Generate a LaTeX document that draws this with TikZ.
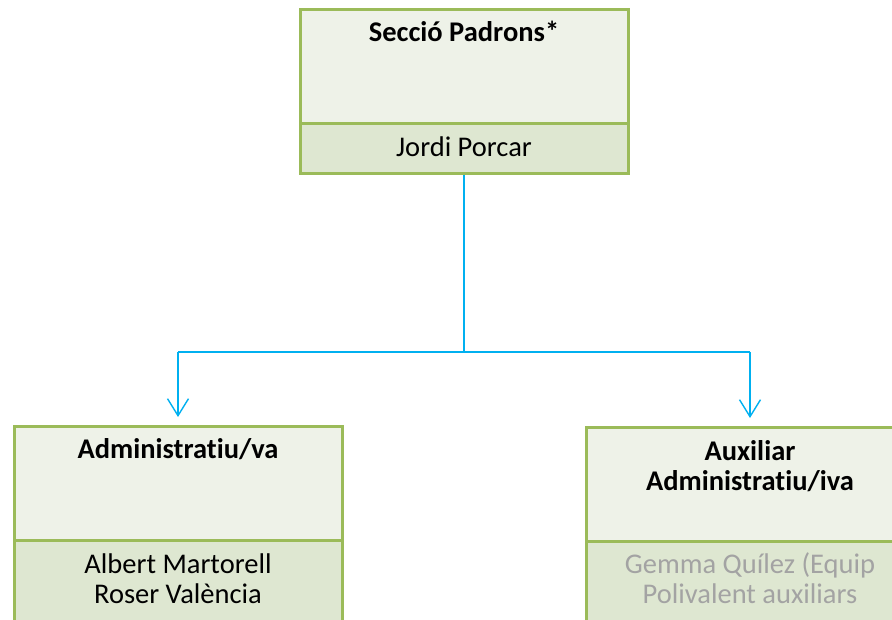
\documentclass[tikz,border=0pt]{standalone}
\usepackage{fontspec}
\setmainfont{Carlito}[Ligatures=NoCommon]
\usetikzlibrary{arrows.meta}
\definecolor{boxborder}{HTML}{9BBB59}
\definecolor{toplight}{HTML}{EEF2E8}
\definecolor{botlight}{HTML}{DEE7D1}
\definecolor{conncol}{HTML}{00B0F0}
\definecolor{graytext}{HTML}{A3A3A3}
\tikzset{
  headbox/.style={draw=boxborder, fill=toplight, line width=3pt, minimum width=328pt, anchor=north, inner sep=0pt},
  namebox/.style={draw=boxborder, fill=botlight, line width=3pt, minimum width=328pt, anchor=north, inner sep=0pt},
  label/.style={anchor=base, inner sep=0pt, font=\fontsize{28.5}{30}\selectfont, align=center},
  trunk/.style={draw=conncol, line width=2.5pt},
  branch/.style={draw=conncol, line width=1.4pt, -{Straight Barb[length=17pt,width=21pt,line width=1.4pt]}, shorten >=8pt}
}
\begin{document}
\begin{tikzpicture}[x=1pt,y=-1pt]
\useasboundingbox (0,0) rectangle (892,620);
\fill[white] (0,0) rectangle (892,620);
% top box
\node[headbox, minimum height=114pt] (t1) at (464,8) {};
\node[namebox, minimum height=50pt] (n1) at (464,122) {};
\node[label] (t1txt) at (464,42) {\bfseries Secció Padrons*};
\node[label] (n1txt) at (464,157) {Jordi Porcar};
% left box
\node[headbox, minimum height=114pt] (t2) at (178,425) {};
\node[namebox, minimum height=110pt] (n2) at (178,539) {};
\node[label] (t2txt) at (178,458) {\bfseries Administratiu/va};
\node[label] (n2txt) at (178,603) {Albert Martorell\\Roser València};
% right box
\node[headbox, minimum height=114pt] (t3) at (750,426) {};
\node[namebox, minimum height=110pt] (n3) at (750,540) {};
\node[label] (t3txt) at (750,490) {\bfseries Auxiliar\\\bfseries Administratiu/iva};
\node[label, text=graytext] (n3txt) at (750,603) {Gemma Quílez (Equip\\Polivalent auxiliars};
% connectors
\coordinate (j) at (464,352);
\coordinate (jl) at (178,352);
\coordinate (jr) at (750,352);
\draw[trunk] (n1.south) -- (j);
\draw[conncol, line width=1.4pt] (jl) -- (jr);
\draw[branch] (jl) -- (t2.north);
\draw[branch] (jr) -- (t3.north);
\end{tikzpicture}
\end{document}
